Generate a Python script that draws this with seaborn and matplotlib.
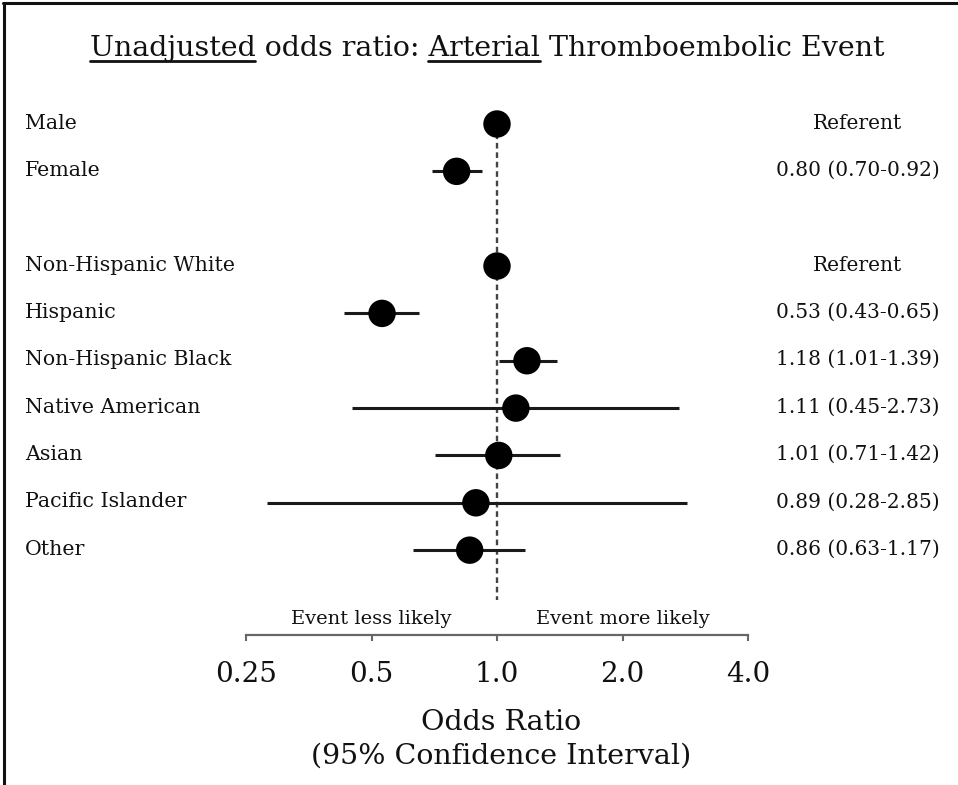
import numpy as np
import pandas as pd
import matplotlib
matplotlib.use("Agg")
import matplotlib.pyplot as plt
import matplotlib.transforms as mtransforms
from matplotlib.lines import Line2D
from matplotlib.ticker import NullLocator
import seaborn as sns

# ---------------- data ----------------
groups = ["Sex", "Sex", "Race", "Race", "Race", "Race", "Race", "Race", "Race"]
categories = ["Male", "Female", "Non-Hispanic White", "Hispanic", "Non-Hispanic Black",
              "Native American", "Asian", "Pacific Islander", "Other"]
odds_ratio = [1.00, 0.80, 1.00, 0.53, 1.18, 1.11, 1.01, 0.89, 0.86]
ci_low = [np.nan, 0.70, np.nan, 0.43, 1.01, 0.45, 0.71, 0.28, 0.63]
ci_high = [np.nan, 0.92, np.nan, 0.65, 1.39, 2.73, 1.42, 2.85, 1.17]
annotations = ["Referent", "0.80 (0.70-0.92)", "Referent", "0.53 (0.43-0.65)",
               "1.18 (1.01-1.39)", "1.11 (0.45-2.73)", "1.01 (0.71-1.42)",
               "0.89 (0.28-2.85)", "0.86 (0.63-1.17)"]
tick_values = [0.25, 0.5, 1.0, 2.0, 4.0]
tick_labels = ["0.25", "0.5", "1.0", "2.0", "4.0"]
title_text = "Unadjusted odds ratio: Arterial Thromboembolic Event"
underlined_words = ["Unadjusted", "Arterial"]
xlabel_text = "Odds Ratio\n(95% Confidence Interval)"
side_labels = [("Event less likely", 0.5), ("Event more likely", 2.0)]

# ---------------- style ----------------
sns.set_style("white")
plt.rcParams["font.family"] = ["DejaVu Serif"]
plt.rcParams["text.color"] = "#111111"

W, H, DPI = 958, 785, 100
fig = plt.figure(figsize=(W / DPI, H / DPI), dpi=DPI)
fig.patch.set_facecolor("white")

# axes placement in pixels
ax_left, ax_right = 246, 748
ax_top, ax_bottom = 100, 635
ax = fig.add_axes([ax_left / W, 1 - ax_bottom / H, (ax_right - ax_left) / W,
                   (ax_bottom - ax_top) / H])
ax.set_facecolor("none")

# row positions with a blank gap between groups
rows = []
pos = 0
for i, g in enumerate(groups):
    if i > 0 and g != groups[i - 1]:
        pos += 1
    rows.append(pos)
    pos += 1

df = pd.DataFrame({"cat": categories, "or": odds_ratio, "lo": ci_low,
                   "hi": ci_high, "row": rows})

row0_px, row_step = 124, 47.35
def px_to_row(py):
    return (py - row0_px) / row_step

# reference line
ax.vlines(1.0, 0, px_to_row(600), colors="#444444", linestyles=(0, (2.4, 1.6)),
          linewidth=1.7, zorder=1)

# CI lines
ci = df.dropna(subset=["lo"])
ax.hlines(ci["row"], ci["lo"], ci["hi"], colors="#1a1a1a", linewidth=2.2, zorder=2)

# point estimates
sns.scatterplot(data=df, x="or", y="row", s=390, color="black", edgecolor="none",
                ax=ax, zorder=3, legend=False)

ax.set_xscale("log", base=2)
ax.set_xlim(0.25, 4.0)
ax.set_ylim(px_to_row(ax_bottom), px_to_row(ax_top))
ax.set_xticks(tick_values)
ax.set_xticklabels(tick_labels, fontsize=20)
ax.xaxis.set_minor_locator(NullLocator())
ax.set_yticks([])
ax.set_xlabel("")
ax.set_ylabel("")
for s in ["left", "right", "top"]:
    ax.spines[s].set_visible(False)
ax.spines["bottom"].set_color("#666666")
ax.spines["bottom"].set_linewidth(1.6)
ax.tick_params(axis="x", bottom=True, direction="out", length=4.5, width=1.5,
               color="#666666", pad=14, labelcolor="#111111")

# left labels and right annotations
trans = mtransforms.blended_transform_factory(fig.transFigure, ax.transData)
base_off = 4.5 / row_step
for _, r in df.iterrows():
    ax.text(25 / W, r["row"] + base_off, r["cat"], transform=trans, ha="left",
            va="baseline", fontsize=14.8, clip_on=False)
for ann, rw in zip(annotations, rows):
    ax.text(858 / W, rw + base_off, ann, transform=trans, ha="center",
            va="baseline", fontsize=14.5, clip_on=False)

# direction labels
for txt, xv in side_labels:
    ax.text(xv, px_to_row(619), txt, ha="center", va="center", fontsize=14,
            clip_on=False)

# axis title
fig.text(501 / W, 1 - 739 / H, xlabel_text, ha="center", va="center",
         fontsize=20.5, linespacing=1.3, multialignment="center")

# chart title with underlined words
title_cx, title_base = 487, 56
title_fs = 20.5
t = fig.text(title_cx / W, 1 - title_base / H, title_text, ha="center",
             va="baseline", fontsize=title_fs)
renderer = fig.canvas.get_renderer()

def text_w(s):
    tmp = fig.text(0, 0, s, fontsize=title_fs)
    w = tmp.get_window_extent(renderer).width
    tmp.remove()
    return w

full_w = t.get_window_extent(renderer).width
x0 = title_cx - full_w / 2
for word in underlined_words:
    idx = title_text.index(word)
    prefix = title_text[:idx] + word[0]
    start = x0 + text_w(prefix) - text_w(word[0])
    end = start + text_w(word)
    uy = title_base + 5
    fig.add_artist(Line2D([start / W, end / W], [1 - uy / H, 1 - uy / H],
                          transform=fig.transFigure, color="#111111", linewidth=2.0))

# page border (top and left)
fig.add_artist(Line2D([3 / W, 1], [1 - 3 / H, 1 - 3 / H], transform=fig.transFigure,
                      color="#111111", linewidth=2.2))
fig.add_artist(Line2D([4 / W, 4 / W], [0, 1 - 3 / H], transform=fig.transFigure,
                      color="#111111", linewidth=2.2))

fig.savefig("out.png", dpi=DPI, facecolor="white")
